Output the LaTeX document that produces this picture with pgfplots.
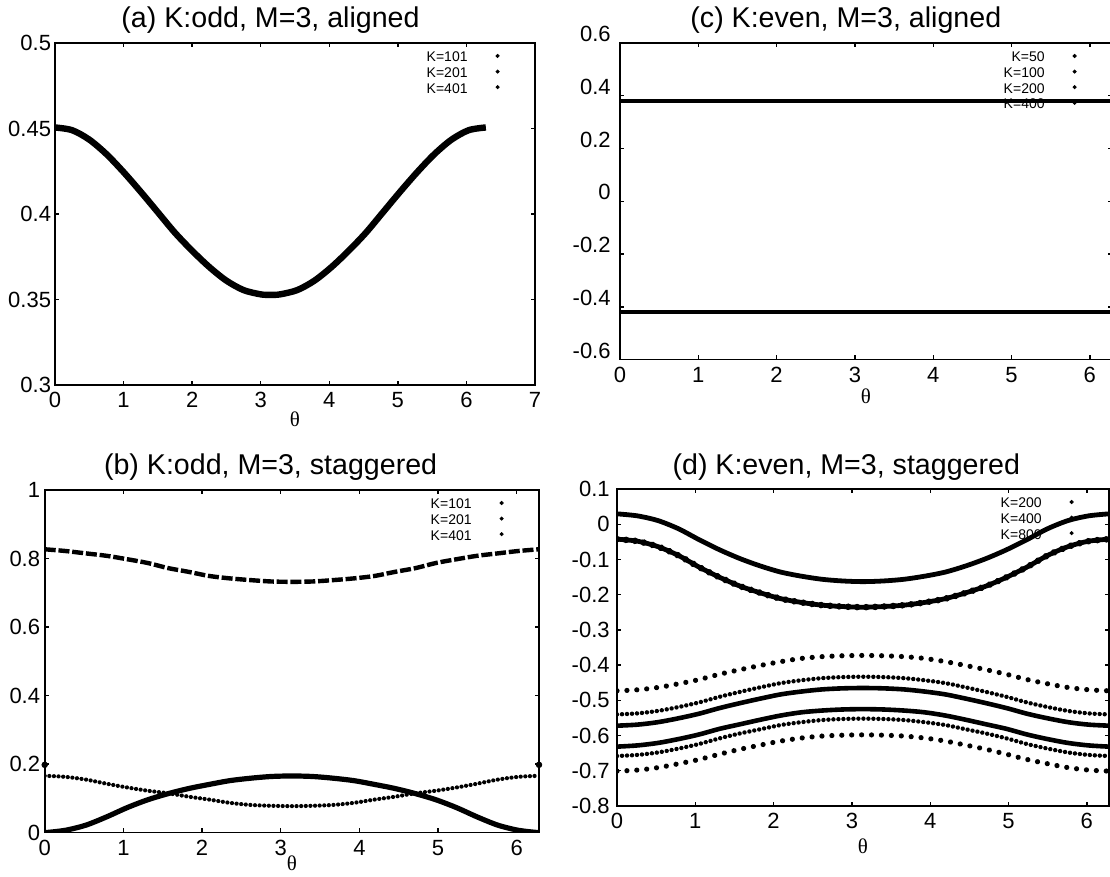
\documentclass[border=0pt]{standalone}
\usepackage{fontspec}
\setmainfont{Liberation Sans}
\newfontfamily\seriffont{Liberation Serif}
\usepackage{pgfplots}
\pgfplotsset{compat=1.18}
\usepackage{pgfplotstable}

% panel (a)
\pgfplotstableread{
t v
0 0.4506
0.25 0.449
0.5 0.4435
0.75 0.435
1.0 0.4245
1.25 0.413
1.5 0.401
1.75 0.389
2.0 0.3785
2.25 0.369
2.5 0.361
2.75 0.3555
3.0 0.353
3.1416 0.3527
3.2832 0.353
3.5332 0.3555
3.7832 0.361
4.0332 0.369
4.2832 0.3785
4.5332 0.389
4.7832 0.401
5.0332 0.413
5.2832 0.4245
5.5332 0.435
5.7832 0.4435
6.0332 0.449
6.2832 0.4506
}\dataA

% panel (b)
\pgfplotstableread{
t top mid bot
0 0.827 0.166 0.000
0.2618 0.822 0.163 0.007
0.5236 0.815 0.155 0.022
0.7854 0.808 0.143 0.046
1.0472 0.798 0.132 0.073
1.3090 0.787 0.1225 0.096
1.5708 0.772 0.115 0.114
1.8326 0.761 0.105 0.129
2.0944 0.749 0.0965 0.141
2.3562 0.742 0.087 0.152
2.6180 0.737 0.081 0.159
2.8798 0.733 0.0785 0.164
3.1416 0.732 0.0775 0.1655
3.4034 0.733 0.0785 0.164
3.6652 0.737 0.081 0.159
3.9270 0.742 0.087 0.152
4.1888 0.749 0.0965 0.141
4.4506 0.761 0.105 0.129
4.7124 0.772 0.115 0.114
4.9742 0.787 0.1225 0.096
5.2360 0.798 0.132 0.073
5.4978 0.808 0.143 0.046
5.7596 0.815 0.155 0.022
6.0214 0.822 0.163 0.007
6.2832 0.827 0.166 0.000
}\dataB

% panel (c)
\pgfplotstableread{
t up lo
0 0.380 -0.419
1.5708 0.380 -0.419
3.1416 0.380 -0.419
4.7124 0.380 -0.419
6.2832 0.380 -0.419
}\dataC

% panel (d)
\pgfplotstableread{
t c1 c2 A B C D E F
0 0.0295 -0.0424 -0.473 -0.540 -0.572 -0.6315 -0.658 -0.701
0.2618 0.0237 -0.0482 -0.470 -0.537 -0.569 -0.628 -0.655 -0.698
0.5236 0.0103 -0.0637 -0.4635 -0.530 -0.562 -0.621 -0.648 -0.691
0.7854 -0.0129 -0.0888 -0.453 -0.519 -0.551 -0.610 -0.637 -0.680
1.0472 -0.0437 -0.1216 -0.441 -0.506 -0.538 -0.597 -0.624 -0.668
1.3090 -0.0725 -0.1506 -0.426 -0.490 -0.522 -0.581 -0.608 -0.653
1.5708 -0.0976 -0.1757 -0.413 -0.476 -0.508 -0.568 -0.594 -0.639
1.8326 -0.1187 -0.1950 -0.401 -0.463 -0.495 -0.555 -0.582 -0.627
2.0944 -0.1361 -0.2115 -0.390 -0.451 -0.483 -0.543 -0.570 -0.6155
2.3562 -0.1476 -0.2221 -0.381 -0.443 -0.475 -0.534 -0.562 -0.607
2.6180 -0.1563 -0.2298 -0.376 -0.437 -0.469 -0.529 -0.556 -0.6015
2.8798 -0.1611 -0.2337 -0.3735 -0.434 -0.466 -0.526 -0.553 -0.599
3.1416 -0.1630 -0.2356 -0.3725 -0.433 -0.465 -0.525 -0.552 -0.598
3.4034 -0.1611 -0.2337 -0.3735 -0.434 -0.466 -0.526 -0.553 -0.599
3.6652 -0.1563 -0.2298 -0.376 -0.437 -0.469 -0.529 -0.556 -0.6015
3.9270 -0.1476 -0.2221 -0.381 -0.443 -0.475 -0.534 -0.562 -0.607
4.1888 -0.1361 -0.2115 -0.390 -0.451 -0.483 -0.543 -0.570 -0.6155
4.4506 -0.1187 -0.1950 -0.401 -0.463 -0.495 -0.555 -0.582 -0.627
4.7124 -0.0976 -0.1757 -0.413 -0.476 -0.508 -0.568 -0.594 -0.639
4.9742 -0.0725 -0.1506 -0.426 -0.490 -0.522 -0.581 -0.608 -0.653
5.2360 -0.0437 -0.1216 -0.441 -0.506 -0.538 -0.597 -0.624 -0.668
5.4978 -0.0129 -0.0888 -0.453 -0.519 -0.551 -0.610 -0.637 -0.680
5.7596 0.0103 -0.0637 -0.4635 -0.530 -0.562 -0.621 -0.648 -0.691
6.0214 0.0237 -0.0482 -0.470 -0.537 -0.569 -0.628 -0.655 -0.698
6.2832 0.0295 -0.0424 -0.473 -0.540 -0.572 -0.6315 -0.658 -0.701
}\dataD

\pgfplotsset{
  panel/.style={
    scale only axis,
    axis line style={line width=0.8pt},
    every tick/.style={line width=0.7pt, black},
    major tick length=2.2pt,
    tick align=inside,
    /pgf/number format/assume math mode=true,
    ticklabel style={font=\fontsize{11}{13}\selectfont},
    xticklabel style={inner ysep=0pt, yshift=-3.5pt},
    every axis title shift=0pt,
    title style={font=\fontsize{14.3}{16}\selectfont, anchor=base, yshift=7.5pt},
    xlabel={\seriffont θ},
    xlabel style={font=\fontsize{10.5}{12}\selectfont, at={(axis description cs:0.5,0)}, anchor=center},
    legend style={draw=none, fill=none, at={(axis description cs:1,1)}, anchor=north east,
      xshift=-17.7pt, yshift=-1.9pt, inner sep=0pt, outer sep=0pt,
      font=\fontsize{7}{8}\selectfont, nodes={inner sep=0pt, outer sep=0pt},
      row sep=-1.3pt, column sep=0pt},
    legend cell align=right,
    legend plot pos=right,
    legend image code/.code={\path[draw=none, fill=none] (0pt,-1.25pt) rectangle (15pt,5.9pt); \fill[black] (15pt,1.3pt) circle (0.8pt);},
  },
  solidc/.style={black, line width=#1, smooth, forget plot},
  dotc/.style={black, line width=#1, smooth, line cap=round, forget plot},
}

\begin{document}
\begin{tikzpicture}
\useasboundingbox (0,0) rectangle (555pt,438.5pt);

% (a)
\begin{axis}[panel, at={(27.5pt,246pt)}, anchor=south west, width=240pt, height=171pt,
  xmin=0, xmax=7, ymin=0.3, ymax=0.5,
  xtick={0,1,2,3,4,5,6,7}, xticklabels={0,1,2,3,4,5,6,7},
  ytick={0.3,0.35,0.4,0.45,0.5}, yticklabels={0.3,0.35,0.4,0.45,0.5},
  yticklabel style={inner xsep=0pt, xshift=-1.8pt},
  title={(a) K:odd, M=3, aligned}, title style={at={(axis description cs:0.449,1)}},
  xlabel style={yshift=-17.3pt}]
\addplot[solidc=3.2pt] table[x=t, y=v] {\dataA};
\addlegendimage{black}\addlegendentry{K=101}
\addlegendimage{black}\addlegendentry{K=201}
\addlegendimage{black}\addlegendentry{K=401}
\end{axis}

% (b)
\begin{axis}[panel, at={(22.35pt,22.15pt)}, anchor=south west, width=247.15pt, height=171.35pt,
  xmin=0, xmax=6.2832, ymin=0, ymax=1,
  xtick={0,1,2,3,4,5,6}, xticklabels={0,1,2,3,4,5,6},
  ytick={0,0.2,0.4,0.6,0.8,1}, yticklabels={0,0.2,0.4,0.6,0.8,1},
  yticklabel style={inner xsep=0pt, xshift=-2.1pt},
  title={(b) K:odd, M=3, staggered}, title style={at={(axis description cs:0.457,1)}},
  xlabel style={yshift=-15.5pt}]
\addplot[dotc=2.2pt, line cap=butt, dash pattern=on 5.5pt off 1.4pt] table[x=t, y=top] {\dataB};
\addplot[dotc=2.1pt, dash pattern=on 0.01pt off 2.3pt] table[x=t, y=mid] {\dataB};
\addplot[solidc=2.6pt] table[x=t, y=bot] {\dataB};
\addplot[only marks, mark=*, mark size=1.4pt, black, forget plot] coordinates {(0,0.198) (6.2832,0.198)};
\addlegendimage{black}\addlegendentry{K=101}
\addlegendimage{black}\addlegendentry{K=201}
\addlegendimage{black}\addlegendentry{K=401}
\end{axis}

% (c)
\begin{axis}[panel, at={(310pt,258.65pt)}, anchor=south west, width=246pt, height=158.35pt,
  xmin=0, xmax=6.2832, ymin=-0.6, ymax=0.6,
  xtick={0,1,2,3,4,5,6}, xticklabels={0,1,2,3,4,5,6},
  ytick={-0.6,-0.4,-0.2,0,0.2,0.4,0.6}, yticklabels={-0.6,-0.4,-0.2,0,0.2,0.4,0.6},
  yticklabel style={inner xsep=0pt, xshift=-4.5pt, yshift=4.5pt},
  title={(c) K:even, M=3, aligned}, title style={at={(axis description cs:0.459,1)}},
  xlabel style={yshift=-18.5pt}]
\addlegendimage{black}\addlegendentry{K=50}
\addlegendimage{black}\addlegendentry{K=100}
\addlegendimage{black}\addlegendentry{K=200}
\addlegendimage{black}\addlegendentry{K=400}
\addplot[solidc=1.9pt] table[x=t, y=up] {\dataC};
\addplot[solidc=1.9pt] table[x=t, y=lo] {\dataC};
\end{axis}

% (d)
\begin{axis}[panel, at={(308.5pt,35.5pt)}, anchor=south west, width=246pt, height=158.5pt,
  xmin=0, xmax=6.2832, ymin=-0.8, ymax=0.1,
  xtick={0,1,2,3,4,5,6}, xticklabels={0,1,2,3,4,5,6},
  ytick={-0.8,-0.7,-0.6,-0.5,-0.4,-0.3,-0.2,-0.1,0,0.1},
  yticklabels={-0.8,-0.7,-0.6,-0.5,-0.4,-0.3,-0.2,-0.1,0,0.1},
  yticklabel style={inner xsep=0pt, xshift=-3.5pt},
  title={(d) K:even, M=3, staggered}, title style={at={(axis description cs:0.466,1)}},
  xlabel style={yshift=-20pt}]
\addplot[solidc=2.4pt] table[x=t, y=c1] {\dataD};
\addplot[solidc=2.4pt] table[x=t, y=c2] {\dataD};
\addplot[dotc=3.3pt, dash pattern=on 0.01pt off 4.5pt] table[x=t, y=c2] {\dataD};
\addplot[dotc=2.6pt, dash pattern=on 0.01pt off 4.95pt] table[x=t, y=A] {\dataD};
\addplot[dotc=2.2pt, dash pattern=on 0.01pt off 2.49pt] table[x=t, y=B] {\dataD};
\addplot[solidc=2.3pt] table[x=t, y=C] {\dataD};
\addplot[solidc=2.3pt] table[x=t, y=D] {\dataD};
\addplot[dotc=2.2pt, dash pattern=on 0.01pt off 2.49pt] table[x=t, y=E] {\dataD};
\addplot[dotc=2.6pt, dash pattern=on 0.01pt off 4.95pt] table[x=t, y=F] {\dataD};
\addlegendimage{black}\addlegendentry{K=200}
\addlegendimage{black}\addlegendentry{K=400}
\addlegendimage{black}\addlegendentry{K=800}
\end{axis}
\end{tikzpicture}
\end{document}
